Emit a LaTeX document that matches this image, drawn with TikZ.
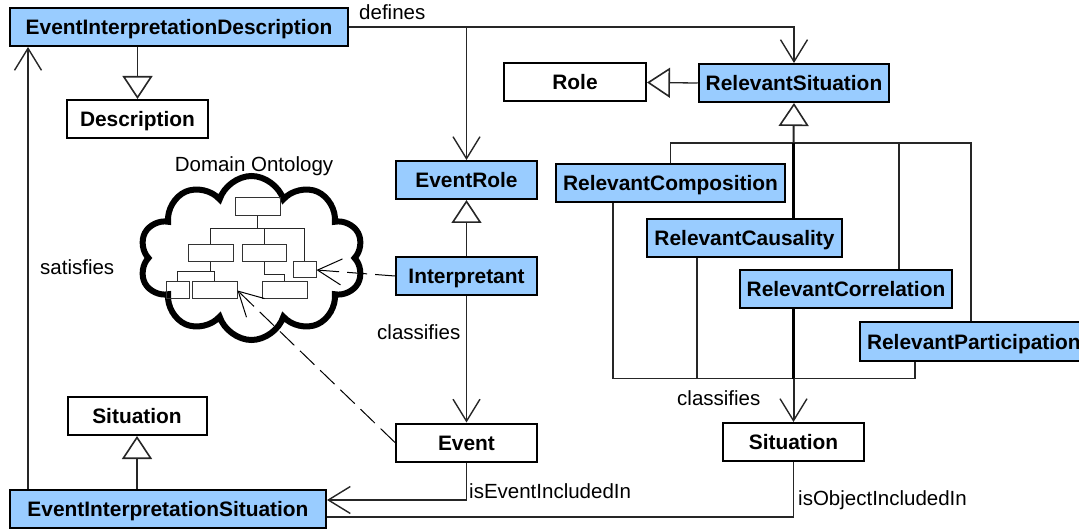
\documentclass[tikz,border=0pt]{standalone}
\usepackage{fontspec}
\setmainfont{Liberation Sans}
\usetikzlibrary{arrows.meta,shapes.symbols}

\definecolor{classblue}{RGB}{153,204,255}

\tikzset{
  classbox/.style={draw=black, line width=2pt, minimum height=38pt, inner xsep=7pt,
    inner ysep=0pt, text height=15pt, text depth=0pt,
    font=\fontsize{20.9}{24}\selectfont\bfseries},
  bluebox/.style={classbox, fill=classblue},
  whitebox/.style={classbox, fill=white},
  lbl/.style={inner sep=0pt, font=\fontsize{20.5}{24}\selectfont},
  plainline/.style={draw=black!85, line width=1.3pt},
  heavyline/.style={draw=black, line width=2.2pt},
  assoc/.style={plainline, -{Straight Barb[length=22pt,width=27pt,line width=1.4pt]}},
  genline/.style={plainline, -{Triangle[open,length=23pt,width=30pt,line width=1.6pt]}},
  depline/.style={draw=black, line width=1pt, dash pattern=on 20pt off 8pt,
    -{Straight Barb[length=24pt,width=26pt,line width=1pt]}},
  minibox/.style={draw=black!80, line width=1pt, inner sep=0pt},
  treeline/.style={draw=black!85, line width=1pt}
}

\begin{document}
\begin{tikzpicture}[x=1pt,y=-1pt]
\useasboundingbox (0,0) rectangle (1079,529);

% ---- classes ----
\node[bluebox, minimum width=338pt] (EID) at (179,27) {EventInterpretationDescription};
\node[whitebox, minimum width=141pt] (Description) at (137.5,119) {Description};
\node[whitebox, minimum width=142pt] (Role) at (575,82.5) {Role};
\node[bluebox, minimum width=188pt] (RelSit) at (794,83) {RelevantSituation};
\node[bluebox, minimum width=141pt] (EventRole) at (466.5,180) {EventRole};
\node[bluebox, minimum width=141pt] (Interpretant) at (466.5,276) {Interpretant};
\node[whitebox, minimum width=141pt] (Event) at (466.5,442.5) {Event};
\node[bluebox, minimum width=229pt] (Composition) at (670.5,183.5) {RelevantComposition};
\node[bluebox, minimum width=193pt] (Causality) at (744.5,238.5) {RelevantCausality};
\node[bluebox, minimum width=210pt] (Correlation) at (846,289.5) {RelevantCorrelation};
\node[bluebox, anchor=west] (Participation) at (859,341.5) {RelevantParticipation};
\node[whitebox, minimum width=141pt] (SitR) at (793.5,442) {Situation};
\node[whitebox, minimum width=139pt] (SitL) at (137,416) {Situation};
\node[bluebox, minimum width=316pt] (EIS) at (168,509) {EventInterpretationSituation};

% ---- domain ontology cloud ----
\node[cloud, cloud puffs=10, cloud puff arc=145, draw=black, line width=6pt,
      minimum width=224pt, minimum height=164pt, inner sep=0pt] (cloud) at (251.5,258) {};
\node[lbl, anchor=base] (domlbl) at (254,171.5) {Domain Ontology};

\node[minibox, minimum width=45pt, minimum height=18pt] (ob1) at (257.5,207) {};
\node[minibox, minimum width=45pt, minimum height=17pt] (ob2) at (210.5,253.5) {};
\node[minibox, minimum width=44pt, minimum height=17pt] (ob3) at (264,253.5) {};
\node[minibox, minimum width=23pt, minimum height=16pt] (ob4) at (304.5,270) {};
\node[minibox, minimum width=23pt, minimum height=17pt] (ob5) at (177.5,290.5) {};
\node[minibox, minimum width=45pt, minimum height=17pt] (ob6) at (214.5,290.5) {};
\node[minibox, minimum width=45pt, minimum height=17pt] (ob7) at (284.5,290.5) {};

\draw[treeline] (ob1.south) -- (ob1.south |- 0,229);
\draw[treeline] (ob2.north) |- (ob4.north |- 0,229) -- (ob4.north);
\draw[treeline] (ob3.north) -- (ob3.north |- 0,229);
\draw[treeline] (ob2.south) -- (ob2.south |- 0,272);
\draw[treeline] (ob5.north) |- (ob6.north |- 0,272) -- (ob6.north);
\draw[treeline] (ob3.south) -- (ob3.south |- 0,275) -| (ob7.north);

% ---- dependencies into the ontology ----
\draw[depline] (Interpretant.west) -- (ob4.east);
\draw[depline] (Event.west) -- (ob6.east);

% ---- generalisations ----
\draw[genline] (Description.north |- EID.south) -- (Description.north);
\draw[genline] (RelSit.west) -- (Role.east);
\draw[genline] (Interpretant.north) -- (EventRole.south);
\draw[genline] (SitL.south |- EIS.north) -- (SitL.south);

\coordinate (hub) at (793.5,143);
\draw[genline, line width=2pt] (hub) -- (RelSit.south);
\draw[plainline] (Composition.north) |- (hub);
\draw[plainline] (hub) -| ([xshift=-3pt]Participation.north);
\draw[heavyline] (hub) -- (hub |- Causality.north);
\draw[plainline] ([xshift=53pt]Correlation.north) -- ([xshift=53pt]Correlation.north |- hub);

% ---- associations ----
\draw[assoc] (EID.east) -| (RelSit.north);
\draw[assoc] (EventRole.north |- EID.east) -- (EventRole.north);
\node[lbl, anchor=base west] (deflbl) at (359,20) {defines};

\draw[assoc] ([xshift=19pt]EIS.north west) -- ([xshift=19pt]EID.south west);
\node[lbl, anchor=base west] (satlbl) at (40,275) {satisfies};

\draw[assoc] (Interpretant.south) -- (Event.north);
\node[lbl, anchor=base west] (cls1) at (377,339) {classifies};

\coordinate (sink) at (793.5,378.5);
\draw[plainline] ([xshift=-57.5pt]Composition.south) |- (sink);
\draw[plainline] ([xshift=-47.5pt]Causality.south) -- ([xshift=-47.5pt]Causality.south |- sink);
\draw[heavyline] (sink |- Correlation.south) -- (sink);
\draw[plainline] (sink) -| ([xshift=-59pt]Participation.south);
\draw[assoc, line width=2pt] (sink) -- (SitR.north);
\node[lbl, anchor=base west] (cls2) at (677,405) {classifies};

\draw[assoc] (Event.south) |- ([yshift=9pt]EIS.east);
\node[lbl, anchor=base west] (evlbl) at (469,498) {isEventIncludedIn};

\draw[plainline] (SitR.south) |- ([yshift=-8pt]EIS.east);
\node[lbl, anchor=base west] (oblbl) at (798,505) {isObjectIncludedIn};
\end{tikzpicture}
\end{document}
